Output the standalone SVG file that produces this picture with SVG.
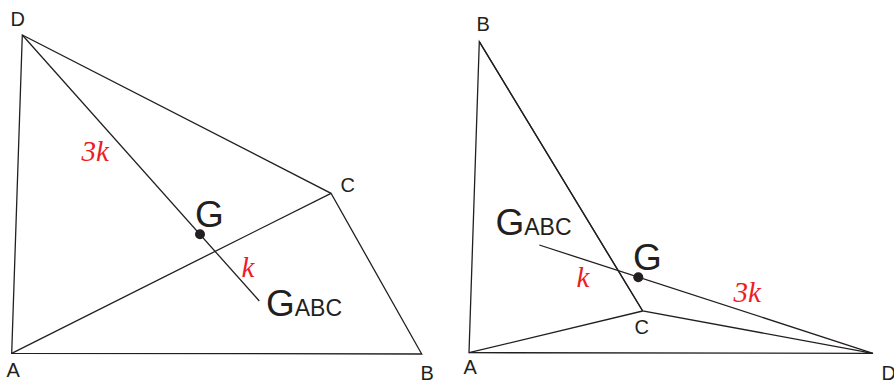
<svg xmlns="http://www.w3.org/2000/svg" width="894" height="382" viewBox="0 0 894 382">
<style>
.ln{stroke:#231f20;stroke-width:1.3;fill:none;stroke-linejoin:miter}
.lb{font-family:"Liberation Sans",Arial,sans-serif;font-size:20px;fill:#231f20}
.big{font-family:"Liberation Sans",Arial,sans-serif;font-size:37px;fill:#231f20}
.sub{font-size:23px}
.red{font-family:"Liberation Serif","Times New Roman",serif;font-style:italic;font-size:29px;fill:#ed1c24}
.dot{fill:#231f20}
</style>
<rect width="894" height="382" fill="#fff"/>
<g id="connectors">
<polygon class="ln" points="22.3,35 11.7,353.3 421.7,354 331,193.3"/>
<line class="ln" x1="11.7" y1="353.3" x2="331" y2="193.3"/>
<line class="ln" x1="22.3" y1="35" x2="259.3" y2="301"/>
<polygon class="ln" points="479.3,41.7 469,352.7 873,353.3 642.7,311"/>
<line class="ln" x1="479.3" y1="41.7" x2="642.7" y2="311"/>
<line class="ln" x1="469" y1="352.7" x2="642.7" y2="311"/>
<line class="ln" x1="539.3" y1="245" x2="873" y2="353.3"/>
</g>
<g id="left-D"><text class="lb" x="10.5" y="26">D</text></g>
<g id="left-A"><text class="lb" x="6.5" y="377">A</text></g>
<g id="left-B"><text class="lb" x="420.5" y="380">B</text></g>
<g id="left-C"><text class="lb" x="340.5" y="192">C</text></g>
<g id="left-G"><circle class="dot" cx="200" cy="234.3" r="5"/><text class="big" x="195" y="227">G</text></g>
<g id="left-GABC"><text class="big" x="266" y="316">G<tspan class="sub">ABC</tspan></text></g>
<g id="left-labels"><text class="red" x="81.5" y="160.5">3k</text><text class="red" x="241.5" y="276.5">k</text></g>
<g id="right-B"><text class="lb" x="476.5" y="31">B</text></g>
<g id="right-A"><text class="lb" x="463.5" y="374">A</text></g>
<g id="right-C"><text class="lb" x="634.5" y="334">C</text></g>
<g id="right-D"><text class="lb" x="881.5" y="380">D</text></g>
<g id="right-G"><circle class="dot" cx="638.3" cy="277.3" r="5"/><text class="big" x="633" y="270">G</text></g>
<g id="right-GABC"><text class="big" x="495.5" y="234.5">G<tspan class="sub">ABC</tspan></text></g>
<g id="right-labels"><text class="red" x="733.5" y="302">3k</text><text class="red" x="576.5" y="286.5">k</text></g>
</svg>
